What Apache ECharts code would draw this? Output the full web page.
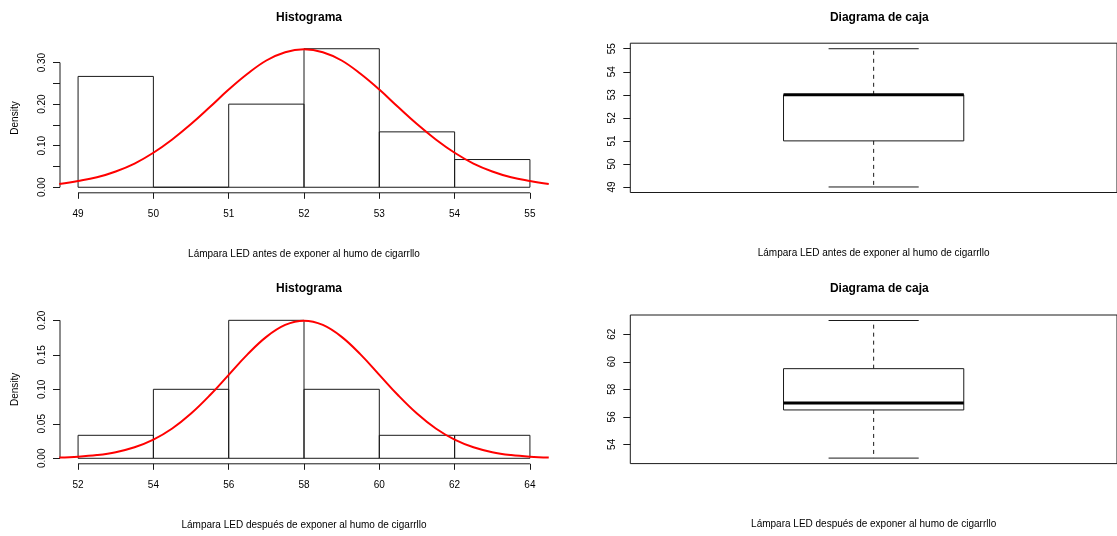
<!DOCTYPE html>
<html>
<head>
<meta charset="utf-8">
<script src="https://cdn.jsdelivr.net/npm/echarts@6/dist/echarts.min.js"></script>
<style>
html,body{margin:0;padding:0;background:#fff;}
#chart{width:1117px;height:536px;}
</style>
</head>
<body>
<div id="chart"></div>
<script>
// ---------- data ----------
const hist1Breaks = [49, 50, 51, 52, 53, 54, 55];
const hist1Density = [0.2667, 0.0, 0.2, 0.3333, 0.1333, 0.0667];
const curve1X = [48.75, 49.0, 49.25, 49.5, 49.75, 50.0, 50.25, 50.5, 50.75, 51.0, 51.25, 51.5, 51.75, 52.0,
                 52.25, 52.5, 52.75, 53.0, 53.25, 53.5, 53.75, 54.0, 54.25, 54.5, 54.75, 55.0, 55.25];
const curve1Y = [0.008, 0.015, 0.024, 0.038, 0.057, 0.083, 0.115, 0.152, 0.193, 0.235, 0.273, 0.305, 0.325, 0.332,
                 0.325, 0.305, 0.273, 0.235, 0.193, 0.152, 0.115, 0.083, 0.057, 0.038, 0.024, 0.015, 0.008];
const hist1XTicks = [49, 50, 51, 52, 53, 54, 55];
const hist1YTicks = [0, 0.05, 0.10, 0.15, 0.20, 0.25, 0.30];
const hist1YLabels = [0, 0.10, 0.20, 0.30];

const hist2Breaks = [52, 54, 56, 58, 60, 62, 64];
const hist2Density = [0.0333, 0.1, 0.2, 0.1, 0.0333, 0.0333];
const curve2X = [51.5, 52.0, 52.5, 53.0, 53.5, 54.0, 54.5, 55.0, 55.5, 56.0, 56.5, 57.0, 57.5, 58.0,
                 58.5, 59.0, 59.5, 60.0, 60.5, 61.0, 61.5, 62.0, 62.5, 63.0, 63.5, 64.0, 64.5];
const curve2Y = [0.0010, 0.0022, 0.0046, 0.0088, 0.0159, 0.0270, 0.0431, 0.0648, 0.0913, 0.1210, 0.1506, 0.1760, 0.1933, 0.1995,
                 0.1933, 0.1760, 0.1506, 0.1210, 0.0913, 0.0648, 0.0431, 0.0270, 0.0159, 0.0088, 0.0046, 0.0022, 0.0010];
const hist2XTicks = [52, 54, 56, 58, 60, 62, 64];
const hist2YTicks = [0, 0.05, 0.10, 0.15, 0.20];
const hist2YLabels = [0, 0.05, 0.10, 0.15, 0.20];

// boxplot stats: [min, Q1, median, Q3, max]
const box1Stats = [49, 51, 53, 53, 55];
const box1Ticks = [49, 50, 51, 52, 53, 54, 55];
const box2Stats = [53, 56.5, 57, 59.5, 63];
const box2Ticks = [54, 56, 58, 60, 62];

const titleHist = 'Histograma';
const titleBox = 'Diagrama de caja';
const xTitle1 = 'Lámpara LED antes de exponer al humo de cigarrllo';
const xTitle2 = 'Lámpara LED después de exponer al humo de cigarrllo';
const yTitleHist = 'Density';

// ---------- helpers ----------
const FONT = '"Liberation Sans", Arial, sans-serif';
const INK = '#1a1a1a';
function ext(lo, hi) { const e = (hi - lo) * 0.04; return [lo - e, hi + e]; }

const h1x = ext(hist1Breaks[0], hist1Breaks[hist1Breaks.length - 1]);
const h1y = ext(0, Math.max(...hist1Density));
const h2x = ext(hist2Breaks[0], hist2Breaks[hist2Breaks.length - 1]);
const h2y = ext(0, Math.max(...hist2Density));
const b1y = ext(box1Stats[0], box1Stats[4]);
const b2y = ext(box2Stats[0], box2Stats[4]);
const bx = ext(0.5, 1.5);

const grids = [
  {left: 60, top: 43.2, width: 488, height: 149.6},
  {left: 60, top: 314.8, width: 488, height: 149},
  {left: 630.3, top: 43.2, width: 488, height: 149.3, show: true, borderColor: INK, borderWidth: 1, backgroundColor: 'transparent'},
  {left: 630.3, top: 315, width: 488, height: 148.6, show: true, borderColor: INK, borderWidth: 1, backgroundColor: 'transparent'}
];

function histX(idx, r, ticks, name) {
  return {
    type: 'value', gridIndex: idx, min: r[0], max: r[1],
    axisLine: {show: false, onZero: false}, splitLine: {show: false},
    axisTick: {show: true, customValues: ticks, length: 6, lineStyle: {color: INK, width: 1}},
    axisLabel: {show: true, customValues: ticks, margin: 16, fontSize: 10, color: '#000', fontFamily: FONT},
    name: name, nameLocation: 'middle', nameGap: 56,
    nameTextStyle: {fontSize: 10, color: '#000', fontFamily: FONT}
  };
}
function histY(idx, r, ticks, labels, name) {
  return {
    type: 'value', gridIndex: idx, min: r[0], max: r[1],
    axisLine: {show: false, onZero: false}, splitLine: {show: false},
    axisTick: {show: true, customValues: ticks, length: 7, lineStyle: {color: INK, width: 1}},
    axisLabel: {show: true, customValues: labels, rotate: 90, margin: 13, fontSize: 10, color: '#000', fontFamily: FONT,
                formatter: v => Number(v).toFixed(2)},
    name: name, nameLocation: 'middle', nameGap: 40, nameRotate: 90,
    nameTextStyle: {fontSize: 10, color: '#000', fontFamily: FONT}
  };
}
function boxX(idx, name) {
  return {
    type: 'value', gridIndex: idx, min: bx[0], max: bx[1],
    axisLine: {show: false, onZero: false}, splitLine: {show: false}, axisTick: {show: false}, axisLabel: {show: false},
    name: name, nameLocation: 'middle', nameGap: 56,
    nameTextStyle: {fontSize: 10, color: '#000', fontFamily: FONT}
  };
}
function boxY(idx, r, ticks) {
  return {
    type: 'value', gridIndex: idx, min: r[0], max: r[1],
    axisLine: {show: false, onZero: false}, splitLine: {show: false},
    axisTick: {show: true, customValues: ticks, length: 7, lineStyle: {color: INK, width: 1}},
    axisLabel: {show: true, customValues: ticks, rotate: 90, margin: 13, fontSize: 10, color: '#000', fontFamily: FONT}
  };
}

function histSeries(idx, breaks, dens) {
  const data = dens.map((d, i) => [breaks[i], breaks[i + 1], d]);
  return {
    type: 'custom', xAxisIndex: idx, yAxisIndex: idx, data: data, silent: true, clip: false,
    encode: {x: [0, 1], y: 2},
    renderItem: function (params, api) {
      const p0 = api.coord([api.value(0), 0]);
      const p1 = api.coord([api.value(1), api.value(2)]);
      return {
        type: 'rect',
        shape: {x: p0[0], y: p1[1], width: p1[0] - p0[0], height: p0[1] - p1[1]},
        style: {fill: 'none', stroke: INK, lineWidth: 1}
      };
    },
    z: 2
  };
}
function curveSeries(idx, xs, ys) {
  return {
    type: 'line', xAxisIndex: idx, yAxisIndex: idx, data: xs.map((x, i) => [x, ys[i]]),
    smooth: 0.4, symbol: 'none', silent: true, clip: true,
    lineStyle: {color: '#ff0000', width: 2}, z: 5
  };
}
function segSeries(idx, pts) {
  return {
    type: 'line', xAxisIndex: idx, yAxisIndex: idx, data: pts, symbol: 'none', silent: true, clip: false,
    lineStyle: {color: INK, width: 1}, z: 3
  };
}
function boxSeries(idx, stats) {
  return {
    type: 'custom', xAxisIndex: idx, yAxisIndex: idx, silent: true,
    data: [[1].concat(stats)],
    encode: {x: 0, y: [1, 2, 3, 4, 5]},
    renderItem: function (params, api) {
      const c = api.value(0), mn = api.value(1), q1 = api.value(2), md = api.value(3), q3 = api.value(4), mx = api.value(5);
      const half = 0.2, cap = 0.1;
      const P = (x, y) => api.coord([x, y]);
      const ln = (a, b, st) => ({type: 'line', shape: {x1: a[0], y1: a[1], x2: b[0], y2: b[1]}, style: Object.assign({stroke: INK, lineWidth: 1}, st || {})});
      const tl = P(c - half, q3), br = P(c + half, q1);
      return {
        type: 'group',
        children: [
          ln(P(c, q3), P(c, mx), {lineDash: [4, 4]}),
          ln(P(c, q1), P(c, mn), {lineDash: [4, 4]}),
          ln(P(c - cap, mx), P(c + cap, mx)),
          ln(P(c - cap, mn), P(c + cap, mn)),
          {type: 'rect', shape: {x: tl[0], y: tl[1], width: br[0] - tl[0], height: br[1] - tl[1]}, style: {fill: 'none', stroke: INK, lineWidth: 1}},
          ln(P(c - half, md), P(c + half, md), {lineWidth: 3, stroke: '#000'})
        ]
      };
    }
  };
}

function title(text, cx, top) {
  return {text: text, left: cx, top: top, textAlign: 'center',
          textStyle: {fontSize: 12, fontWeight: 'bold', color: '#000', fontFamily: FONT}};
}

const option = {
  animation: false,
  backgroundColor: '#fff',
  title: [
    title(titleHist, 304, 7),
    title(titleHist, 304, 278),
    title(titleBox, 874.3, 7),
    title(titleBox, 874.3, 278)
  ],
  grid: grids,
  xAxis: [
    histX(0, h1x, hist1XTicks, xTitle1),
    histX(1, h2x, hist2XTicks, xTitle2),
    boxX(2, xTitle1),
    boxX(3, xTitle2)
  ],
  yAxis: [
    histY(0, h1y, hist1YTicks, hist1YLabels, yTitleHist),
    histY(1, h2y, hist2YTicks, hist2YLabels, yTitleHist),
    boxY(2, b1y, box1Ticks),
    boxY(3, b2y, box2Ticks)
  ],
  series: [
    histSeries(0, hist1Breaks, hist1Density),
    curveSeries(0, curve1X, curve1Y),
    segSeries(0, [[hist1XTicks[0], h1y[0]], [hist1XTicks[hist1XTicks.length - 1], h1y[0]]]),
    segSeries(0, [[h1x[0], hist1YTicks[0]], [h1x[0], hist1YTicks[hist1YTicks.length - 1]]]),
    histSeries(1, hist2Breaks, hist2Density),
    curveSeries(1, curve2X, curve2Y),
    segSeries(1, [[hist2XTicks[0], h2y[0]], [hist2XTicks[hist2XTicks.length - 1], h2y[0]]]),
    segSeries(1, [[h2x[0], hist2YTicks[0]], [h2x[0], hist2YTicks[hist2YTicks.length - 1]]]),
    boxSeries(2, box1Stats),
    boxSeries(3, box2Stats)
  ]
};

const chart = echarts.init(document.getElementById('chart'), null, {renderer: 'canvas'});
chart.setOption(option);
</script>
</body>
</html>
